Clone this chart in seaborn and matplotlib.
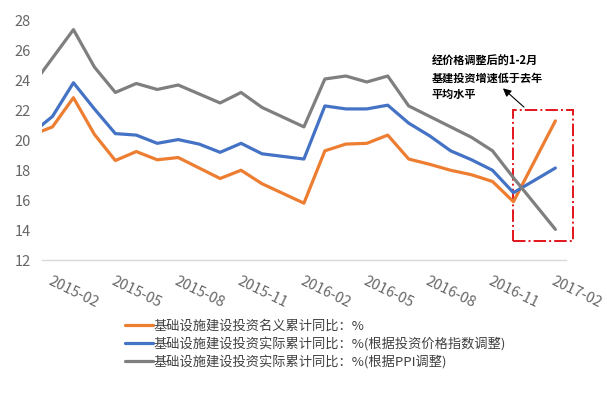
import pandas as pd
import seaborn as sns
import matplotlib.pyplot as plt
from matplotlib.patches import Rectangle

# monthly cumulative yoy, %
months = ['2014-12', '2015-02', '2015-03', '2015-04', '2015-05', '2015-06', '2015-07',
          '2015-08', '2015-09', '2015-10', '2015-11', '2015-12', '2016-02', '2016-03',
          '2016-04', '2016-05', '2016-06', '2016-07', '2016-08', '2016-09', '2016-10',
          '2016-11', '2016-12', '2017-02']
nominal = [19.8, 20.9, 22.85, 20.4, 18.65, 19.25, 18.7, 18.85, 18.15, 17.45, 18.0, 17.1,
           15.8, 19.3, 19.75, 19.8, 20.35, 18.75, 18.4, 18.0, 17.7, 17.25, 15.9, 21.3]
real_price_idx = [19.3, 21.6, 23.85, 22.1, 20.45, 20.35, 19.8, 20.05, 19.75, 19.2, 19.8, 19.1,
                  18.75, 22.3, 22.1, 22.1, 22.35, 21.15, 20.3, 19.3, 18.7, 18.0, 16.5, 18.15]
real_ppi = [21.7, 25.5, 27.4, 24.9, 23.2, 23.8, 23.4, 23.7, 23.1, 22.5, 23.2, 22.2,
            20.9, 24.1, 24.3, 23.9, 24.3, 22.3, 21.6, 20.9, 20.2, 19.3, 17.5, 14.05]

labels = ['基础设施建设投资名义累计同比：%',
          '基础设施建设投资实际累计同比：%(根据投资价格指数调整)',
          '基础设施建设投资实际累计同比：%(根据PPI调整)']
colors = ['#ED7D31', '#4472C4', '#7F7F7F']
tick_labels = ['2015-02', '2015-05', '2015-08', '2015-11', '2016-02',
               '2016-05', '2016-08', '2016-11', '2017-02']

sns.set_style('white')
plt.rcParams['font.family'] = ['Noto Sans CJK SC', 'DejaVu Sans']

dates = pd.to_datetime(months)
idx = (dates.year - 2015) * 12 + dates.month - 2
frames = []
for lab, vals in zip(labels, [nominal, real_price_idx, real_ppi]):
    frames.append(pd.DataFrame({'x': idx, 'value': vals, 'series': lab}))
df = pd.concat(frames, ignore_index=True)

fig = plt.figure(figsize=(6.07, 3.97), dpi=100)
ax = fig.add_axes([0.0692, 0.345, 0.863, 0.603])

sns.lineplot(data=df, x='x', y='value', hue='series', hue_order=labels,
             palette=colors, linewidth=2.3, ax=ax, legend=False)

ax.set_xlim(-0.5, 24.5)
ax.set_ylim(12, 28)
ax.set_yticks(range(12, 29, 2))
ax.set_xticks(range(0, 25, 3))
ax.set_xticklabels(tick_labels, rotation=-26, ha='left', va='top',
                   rotation_mode='anchor')
ax.set_xticks([i - 0.5 for i in range(0, 25, 3)], minor=True)
ax.tick_params(axis='x', which='major', length=0, pad=10, labelsize=10.5,
               labelcolor='#666666')
ax.tick_params(axis='x', which='minor', length=5, color='#D9D9D9', width=1)
ax.tick_params(axis='y', length=0, pad=8, labelsize=10.5, labelcolor='#666666')
ax.set_xlabel('')
ax.set_ylabel('')
for s in ['top', 'right', 'left']:
    ax.spines[s].set_visible(False)
ax.spines['bottom'].set_color('#D9D9D9')
ax.spines['bottom'].set_linewidth(1)

# highlight box on the latest reading
box = Rectangle((21.97, 13.3), 2.86, 8.7, fill=False, edgecolor='#E3141B',
                linestyle='-.', linewidth=1.4, clip_on=False)
ax.add_patch(box)
ax.annotate('', xy=(21.4, 23.6), xytext=(22.6, 22.1),
            arrowprops=dict(arrowstyle='-|>', color='black', lw=0.8,
                            mutation_scale=12))
ax.text(18.1, 25.75, '经价格调整后的1-2月\n基建投资增速低于去年\n平均水平',
        fontsize=8, fontweight='bold', va='top', ha='left', linespacing=1.4,
        color='black')

handles = [plt.Line2D([], [], color=c, linewidth=2.3) for c in colors]
fig.legend(handles, labels, loc='upper left', bbox_to_anchor=(0.195, 0.212),
           frameon=False, fontsize=9.5, handlelength=2.1, handletextpad=0.1,
           labelspacing=0.32, borderpad=0, labelcolor='#404040')

fig.savefig('out.png', dpi=100)
